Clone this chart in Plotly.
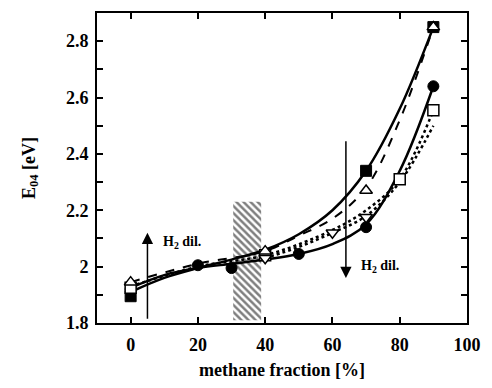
import plotly.graph_objects as go

# ---- data ----
fsq_x = [0, 70, 90]
fsq_y = [1.895, 2.34, 2.85]
tri_x = [0, 40, 70, 90]
tri_y = [1.945, 2.055, 2.27, 2.85]
osq_x = [0, 40, 80, 90]
osq_y = [1.925, 2.04, 2.31, 2.555]
circ_x = [0, 20, 30, 50, 70, 90]
circ_y = [1.92, 2.005, 1.995, 2.045, 2.14, 2.64]
itri_x = [40, 60, 70]
itri_y = [2.03, 2.12, 2.175]

# fit curves
fitA_x = [0, 10, 20, 30, 40, 50, 60, 70, 80, 90]
fitA_y = [1.91, 1.96, 1.995, 2.025, 2.06, 2.115, 2.20, 2.34, 2.56, 2.85]
fitB_x = [0, 10, 20, 30, 40, 50, 60, 70, 80, 90]
fitB_y = [1.925, 1.97, 1.995, 2.01, 2.025, 2.045, 2.08, 2.15, 2.34, 2.64]
fitC_x = [0, 20, 40, 60, 70, 80, 90]
fitC_y = [1.93, 2.0, 2.04, 2.13, 2.20, 2.31, 2.555]
fitD_x = [0, 20, 40, 50, 60, 70, 80, 90]
fitD_y = [1.945, 2.01, 2.055, 2.11, 2.17, 2.28, 2.52, 2.85]
fitE_x = [40, 50, 60, 70, 80, 90]
fitE_y = [2.03, 2.07, 2.12, 2.18, 2.30, 2.50]

hatch_x = [30.5, 38.8]
hatch_y = [1.81, 2.23]

FONT = "Liberation Serif"

fig = go.Figure()

# hatched band
fig.add_trace(go.Scatter(
    x=[hatch_x[0], hatch_x[1], hatch_x[1], hatch_x[0], hatch_x[0]],
    y=[hatch_y[0], hatch_y[0], hatch_y[1], hatch_y[1], hatch_y[0]],
    mode="lines", fill="toself", line=dict(width=0, color="rgba(0,0,0,0)"),
    fillcolor="white",
    fillpattern=dict(shape="\\", fgcolor="black", bgcolor="white", size=5, solidity=0.5),
    hoverinfo="skip", showlegend=False))

# fit lines
fig.add_trace(go.Scatter(x=fitA_x, y=fitA_y, mode="lines", line=dict(color="black", width=2.5, shape="spline")))
fig.add_trace(go.Scatter(x=fitB_x, y=fitB_y, mode="lines", line=dict(color="black", width=2.5, shape="spline")))
fig.add_trace(go.Scatter(x=fitC_x, y=fitC_y, mode="lines", line=dict(color="black", width=2.5, shape="spline", dash="dot")))
fig.add_trace(go.Scatter(x=fitD_x, y=fitD_y, mode="lines", line=dict(color="black", width=2, shape="spline", dash="dash")))
fig.add_trace(go.Scatter(x=fitE_x, y=fitE_y, mode="lines", line=dict(color="black", width=2.5, shape="spline", dash="dot")))

# markers
mk = dict(color="white", size=11, line=dict(color="black", width=1.5))
fig.add_trace(go.Scatter(x=circ_x, y=circ_y, mode="markers",
                         marker=dict(symbol="circle", color="black", size=11, line=dict(color="black", width=1))))
fig.add_trace(go.Scatter(x=fsq_x, y=fsq_y, mode="markers",
                         marker=dict(symbol="square", color="black", size=11, line=dict(color="black", width=1))))
fig.add_trace(go.Scatter(x=osq_x, y=osq_y, mode="markers", marker=dict(symbol="square", **mk)))
fig.add_trace(go.Scatter(x=itri_x, y=itri_y, mode="markers", marker=dict(symbol="triangle-down", **mk)))
fig.add_trace(go.Scatter(x=tri_x, y=tri_y, mode="markers", marker=dict(symbol="triangle-up", **mk)))

# arrows
fig.add_annotation(x=5, y=2.12, ax=5, ay=1.81, xref="x", yref="y", axref="x", ayref="y",
                   text="", showarrow=True, arrowhead=2, arrowsize=1.5, arrowwidth=1.5, arrowcolor="black")
fig.add_annotation(x=64, y=1.96, ax=64, ay=2.45, xref="x", yref="y", axref="x", ayref="y",
                   text="", showarrow=True, arrowhead=2, arrowsize=1.5, arrowwidth=1.5, arrowcolor="black")
fig.add_annotation(x=9, y=2.085, xref="x", yref="y", text="<b>H<sub>2</sub> dil.</b>", showarrow=False,
                   xanchor="left", font=dict(family=FONT, size=14, color="black"))
fig.add_annotation(x=68, y=2.0, xref="x", yref="y", text="<b>H<sub>2</sub> dil.</b>", showarrow=False,
                   xanchor="left", font=dict(family=FONT, size=14, color="black"))

axis_common = dict(showline=True, linecolor="black", linewidth=2, mirror="ticks",
                   ticks="inside", ticklen=6, tickwidth=1.5, tickcolor="black",
                   showgrid=False, zeroline=False,
                   tickfont=dict(family=FONT, size=18, color="black"))

fig.update_layout(
    width=492, height=388,
    margin=dict(l=97, r=21, t=11, b=58),
    paper_bgcolor="white", plot_bgcolor="white",
    showlegend=False,
    font=dict(family=FONT, color="black"),
    xaxis=dict(range=[-10, 100],
               tickvals=[0, 20, 40, 60, 80, 100],
               ticktext=["<b>0</b>", "<b>20</b>", "<b>40</b>", "<b>60</b>", "<b>80</b>", "<b>100</b>"],
               ticklabelstandoff=4,
               title=dict(text="<b>methane fraction [%]</b>", font=dict(family=FONT, size=18, color="black"), standoff=10),
               **axis_common),
    yaxis=dict(range=[1.8, 2.9],
               tickvals=[1.8, 2.0, 2.2, 2.4, 2.6, 2.8],
               ticktext=["<b>1.8</b>", "<b>2</b>", "<b>2.2</b>", "<b>2.4</b>", "<b>2.6</b>", "<b>2.8</b>"],
               ticklabelstandoff=3,
               minor=dict(tickvals=[1.9, 2.1, 2.3, 2.5, 2.7], ticks="inside", ticklen=6, tickwidth=1.5, tickcolor="black"),
               title=dict(text="<b>E<sub>04</sub> [eV]</b>", font=dict(family=FONT, size=18, color="black"), standoff=26),
               **axis_common),
)

fig.write_html("out.html")
